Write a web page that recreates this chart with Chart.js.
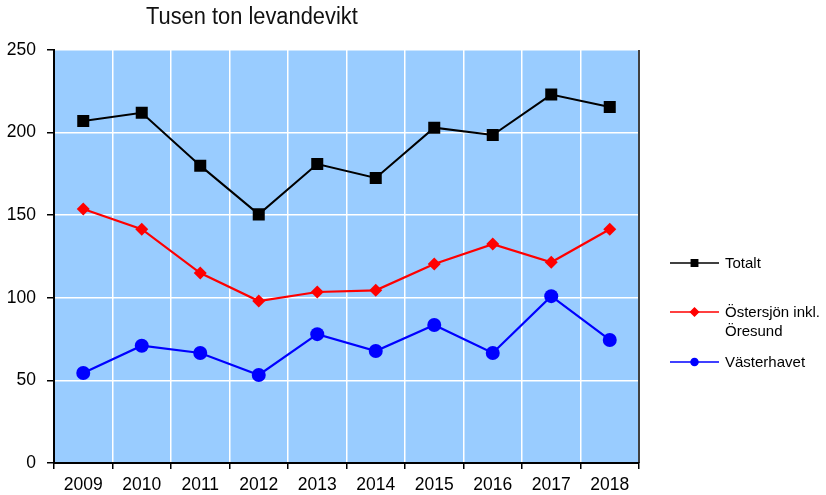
<!DOCTYPE html>
<html>
<head>
<meta charset="utf-8">
<script src="https://cdn.jsdelivr.net/npm/chart.js@4"></script>
<style>
  html, body { margin: 0; padding: 0; background: #fff; }
  #wrap { position: relative; width: 826px; height: 495px; }
  #title { position: absolute; left: 146px; top: 3px; font: 23px "Liberation Sans", Arial, sans-serif; color: #111;
           transform: scaleX(0.95); transform-origin: left top; white-space: nowrap; }
</style>
</head>
<body>
<div id="wrap">
  <canvas id="chart" width="826" height="495"></canvas>
  <div id="title">Tusen ton levandevikt</div>
</div>
<script>
// data
const years = ['2009', '2010', '2011', '2012', '2013', '2014', '2015', '2016', '2017', '2018'];
const totalt = [207, 212, 180, 150.5, 181, 172.5, 203, 198.5, 223, 215.5];
const ostersjon = [153.8, 141.5, 115, 98, 103.5, 104.5, 120.5, 132.5, 121.5, 141.5];
const vasterhavet = [54.5, 71, 66.6, 53.3, 78, 67.8, 83.5, 66.6, 101, 74.5];
const seriesNames = ['Totalt', ['Östersjön inkl.', 'Öresund'], 'Västerhavet'];
const yTicks = [0, 50, 100, 150, 200, 250];

const FONT = '"Liberation Sans", Arial, sans-serif';

// plot background, right border and the legend on the right side
const decor = {
  id: 'decor',
  beforeDraw(chart) {
    const { ctx, chartArea: a } = chart;
    ctx.save();
    ctx.fillStyle = '#99CCFF';
    ctx.fillRect(a.left, a.top, a.right - a.left, a.bottom - a.top);
    ctx.restore();
  },
  afterDraw(chart) {
    const { ctx, chartArea: a } = chart;
    ctx.save();
    ctx.strokeStyle = '#000';
    ctx.lineWidth = 1.5;
    ctx.beginPath();
    ctx.moveTo(a.right, a.top);
    ctx.lineTo(a.right, a.bottom);
    ctx.stroke();

    const rows = [
      { y: 263, color: '#000000', style: 'rect', r: 4.5 },
      { y: 312, color: '#FF0000', style: 'rectRot', r: 4 },
      { y: 362, color: '#0000FF', style: 'circle', r: 3.5 }
    ];
    ctx.font = '15px ' + FONT;
    ctx.textBaseline = 'middle';
    rows.forEach((row, i) => {
      ctx.strokeStyle = row.color;
      ctx.lineWidth = 1.5;
      ctx.beginPath();
      ctx.moveTo(670, row.y);
      ctx.lineTo(719, row.y);
      ctx.stroke();
      ctx.fillStyle = row.color;
      Chart.helpers.drawPoint(ctx, { pointStyle: row.style, radius: row.r, borderWidth: 1 }, 694.5, row.y);
      ctx.fillStyle = '#000';
      const name = seriesNames[i];
      const lines = Array.isArray(name) ? name : [name];
      lines.forEach((t, k) => ctx.fillText(t, 725, row.y + 1 + k * 19));
    });
    ctx.restore();
  }
};

new Chart(document.getElementById('chart'), {
  type: 'line',
  data: {
    labels: years,
    datasets: [
      {
        label: 'Totalt',
        data: totalt,
        borderColor: '#000000',
        backgroundColor: '#000000',
        borderWidth: 2,
        pointStyle: 'rect',
        pointRadius: 8.5,
        pointBorderWidth: 0
      },
      {
        label: 'Östersjön inkl. Öresund',
        data: ostersjon,
        borderColor: '#FF0000',
        backgroundColor: '#FF0000',
        borderWidth: 2.2,
        pointStyle: 'rectRot',
        pointRadius: 6.5,
        pointBorderWidth: 0
      },
      {
        label: 'Västerhavet',
        data: vasterhavet,
        borderColor: '#0000FF',
        backgroundColor: '#0000FF',
        borderWidth: 2.2,
        pointStyle: 'circle',
        pointRadius: 7,
        pointBorderWidth: 0
      }
    ]
  },
  options: {
    responsive: false,
    animation: false,
    layout: { padding: { top: 50, right: 187, left: 0, bottom: 0 } },
    plugins: {
      legend: { display: false },
      tooltip: { enabled: false }
    },
    elements: { line: { tension: 0 } },
    scales: {
      x: {
        offset: true,
        grid: {
          offset: true,
          color: '#FFFFFF',
          lineWidth: 1.5,
          tickColor: '#000',
          tickLength: 6,
          tickWidth: 1.5
        },
        border: { color: '#000', width: 2 },
        ticks: {
          color: '#000',
          padding: 6,
          maxRotation: 0,
          font: { family: FONT, size: 17.5 }
        },
        afterFit: (s) => { s.height = 32; }
      },
      y: {
        min: 0,
        max: 250,
        afterBuildTicks: (s) => { s.ticks = yTicks.map(v => ({ value: v })); },
        grid: {
          color: '#FFFFFF',
          lineWidth: 1.5,
          tickColor: '#000',
          tickLength: 7,
          tickWidth: 1.5
        },
        border: { color: '#000', width: 2 },
        ticks: {
          color: '#000',
          padding: 11,
          font: { family: FONT, size: 17.5 }
        },
        afterFit: (s) => { s.width = 54; }
      }
    }
  },
  plugins: [decor]
});
</script>
</body>
</html>
